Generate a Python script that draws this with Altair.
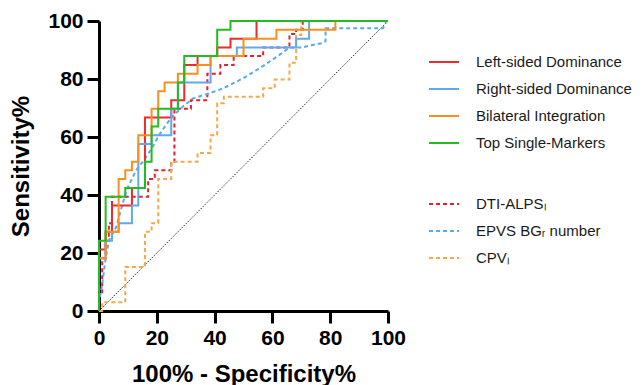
import altair as alt
import pandas as pd

# ---- ROC curves (x = 100% - Specificity%, y = Sensitivity%) ----
left_fpr = [0, 0, 2.3, 2.3, 4.5, 4.5, 11.4, 11.4, 15.9, 15.9, 25, 25, 29.5, 29.5, 34.1, 34.1, 40.9, 40.9, 45.5, 45.5, 54.5, 54.5, 100]
left_sens = [0, 21.2, 21.2, 27.3, 27.3, 36.4, 36.4, 42.4, 42.4, 66.7, 66.7, 72.7, 72.7, 84.8, 84.8, 87.9, 87.9, 90.9, 90.9, 93.9, 93.9, 100, 100]

right_fpr = [0, 0, 2.3, 2.3, 4.5, 4.5, 6.8, 6.8, 11.4, 11.4, 13.6, 13.6, 18.2, 18.2, 25, 25, 27.3, 27.3, 38.6, 38.6, 47.7, 47.7, 68.2, 68.2, 72.7, 72.7, 100]
right_sens = [0, 18.2, 18.2, 24.2, 24.2, 27.3, 27.3, 30.3, 30.3, 36.4, 36.4, 57.6, 57.6, 60.6, 60.6, 69.7, 69.7, 78.8, 78.8, 87.9, 87.9, 90.9, 90.9, 93.9, 93.9, 100, 100]

bilat_fpr = [0, 0, 2.3, 2.3, 6.8, 6.8, 9.1, 9.1, 11.4, 11.4, 13.6, 13.6, 18.2, 18.2, 20.5, 20.5, 22.7, 22.7, 27.3, 27.3, 34.1, 34.1, 38.6, 38.6, 50, 50, 61.4, 61.4, 81.8, 81.8, 100]
bilat_sens = [0, 18.2, 18.2, 27.3, 27.3, 45.5, 45.5, 48.5, 48.5, 51.5, 51.5, 60.6, 60.6, 69.7, 69.7, 75.8, 75.8, 78.8, 78.8, 81.8, 81.8, 84.8, 84.8, 87.9, 87.9, 93.9, 93.9, 97, 97, 100, 100]

top_fpr = [0, 0, 2.3, 2.3, 9.1, 9.1, 15.9, 15.9, 18.2, 18.2, 20.5, 20.5, 27.3, 27.3, 29.5, 29.5, 40.9, 40.9, 45.5, 45.5, 100]
top_sens = [0, 24.2, 24.2, 39.4, 39.4, 42.4, 42.4, 51.5, 51.5, 63.6, 63.6, 69.7, 69.7, 78.8, 78.8, 87.9, 87.9, 97, 97, 100, 100]

dti_fpr = [0, 0, 1.1, 1.1, 2.3, 2.3, 3.4, 3.4, 4.5, 4.5, 17, 17, 19.3, 19.3, 25, 25, 26.1, 26.1, 31.8, 31.8, 37.5, 37.5, 42, 42, 46.6, 46.6, 56.8, 56.8, 65.9, 65.9, 68.2, 68.2, 70.5, 70.5, 100]
dti_sens = [0, 6.1, 6.1, 18.2, 18.2, 24.2, 24.2, 30.3, 30.3, 39.4, 39.4, 45.5, 45.5, 48.5, 48.5, 51.5, 51.5, 69.7, 69.7, 72.7, 72.7, 81.8, 81.8, 84.8, 84.8, 87.9, 87.9, 90.9, 90.9, 95.5, 95.5, 97, 97, 100, 100]

epvs_fpr = [0, 0, 1.1, 2.3, 3.4, 6.0, 9.5, 12.9, 15.9, 18.2, 21.0, 25.0, 29.0, 32.5, 38.0, 43.0, 50.0, 56.8, 62.0, 66.0, 70.5, 72.7, 77.3, 78.4, 78.4, 98.3, 99.5, 100]
epvs_sens = [0, 3.0, 9.1, 18.2, 24.2, 29.1, 41.7, 48.6, 52.5, 56.0, 61.0, 66.7, 70.5, 73.3, 75.0, 76.8, 80.3, 84.5, 88.0, 90.9, 90.9, 91.5, 92.4, 93.0, 97.5, 97.5, 100, 100]

cpv_fpr = [0, 1.1, 1.1, 9.1, 9.1, 15.9, 15.9, 18.2, 18.2, 20.5, 20.5, 25, 25, 34.1, 34.1, 38.6, 38.6, 40.9, 40.9, 43.2, 43.2, 56.8, 56.8, 60.8, 60.8, 65.9, 65.9, 68.2, 68.2, 70.0, 70.0, 100]
cpv_sens = [0, 0, 3.0, 3.0, 15.2, 15.2, 27.3, 27.3, 30.3, 30.3, 45.5, 45.5, 51.5, 51.5, 54.5, 54.5, 60.6, 60.6, 71.6, 71.6, 73.9, 73.9, 76.8, 76.8, 79.8, 79.8, 85.6, 85.6, 95.2, 95.2, 100, 100]

diag_x = [0, 100]
diag_y = [0, 100]

solid_names = ["Left-sided Dominance", "Right-sided Dominance", "Bilateral Integration", "Top Single-Markers"]
solid_colors = ["#ee2b2b", "#62a8f0", "#f7901e", "#22bb22"]
dashed_names = ["DTI-ALPS\u2097", "EPVS BG\u1d63 number", "CPV\u2097"]
dashed_colors = ["#dd2233", "#5aa8f0", "#f5a84a"]

solid_series = [(solid_names[0], left_fpr, left_sens), (solid_names[1], right_fpr, right_sens),
                (solid_names[2], bilat_fpr, bilat_sens), (solid_names[3], top_fpr, top_sens)]
dashed_series = [(dashed_names[0], dti_fpr, dti_sens), (dashed_names[1], epvs_fpr, epvs_sens),
                 (dashed_names[2], cpv_fpr, cpv_sens)]


def frame(series):
    rows = []
    for name, xs, ys in series:
        for i, (a, b) in enumerate(zip(xs, ys)):
            rows.append({"series": name, "fpr": a, "sens": b, "idx": i})
    return pd.DataFrame(rows)


solid_df = frame(solid_series)
dashed_df = frame(dashed_series)
diag_df = pd.DataFrame({"fpr": diag_x, "sens": diag_y})

FONT = "Liberation Sans"
xscale = alt.Scale(domain=[0, 100], nice=False, zero=False)
yscale = alt.Scale(domain=[0, 100], nice=False, zero=False)
ticks = [0, 20, 40, 60, 80, 100]

X = alt.X("fpr:Q", scale=xscale, axis=alt.Axis(values=ticks, title="100% - Specificity%", format="d"))
Y = alt.Y("sens:Q", scale=yscale, axis=alt.Axis(values=ticks, title="Sensitivity%", format="d"))

legend_common = dict(orient="none", title=None, symbolType="stroke", symbolSize=900,
                     symbolStrokeWidth=2, labelFont=FONT, labelFontSize=15, labelColor="#1a1a1a",
                     labelOffset=16, rowPadding=3, padding=0)

diag = alt.Chart(diag_df).mark_line(color="#222222", strokeWidth=1, strokeDash=[1.5, 1.5]).encode(
    x=X, y=Y)

dashed = alt.Chart(dashed_df).mark_line(strokeWidth=2, strokeDash=[4, 3]).encode(
    x=X, y=Y,
    stroke=alt.Stroke("series:N", scale=alt.Scale(domain=dashed_names, range=dashed_colors),
                      legend=alt.Legend(legendX=329, legendY=167, symbolDash=[4, 3], **legend_common)),
    order="idx:Q")

solid = alt.Chart(solid_df).mark_line(strokeWidth=2).encode(
    x=X, y=Y,
    color=alt.Color("series:N", scale=alt.Scale(domain=solid_names, range=solid_colors),
                    legend=alt.Legend(legendX=329, legendY=25, **legend_common)),
    order="idx:Q")

chart = alt.layer(diag, dashed, solid).properties(
    width=289, height=290,
    autosize=alt.AutoSizeParams(type="none"),
    padding={"left": 91, "top": 13, "right": 247, "bottom": 80},
).configure_view(strokeWidth=0).configure_axis(
    grid=False, domainColor="black", domainWidth=3, tickColor="black", tickWidth=3, tickSize=12,
    labelFont=FONT, labelFontWeight="bold", labelFontSize=21, labelColor="black", labelPadding=4,
    labelFlush=False,
    titleFont=FONT, titleFontWeight="bold", titleFontSize=24, titleColor="black", titlePadding=14,
)

chart.save("out.html", embed_options={"renderer": "svg", "actions": False})
